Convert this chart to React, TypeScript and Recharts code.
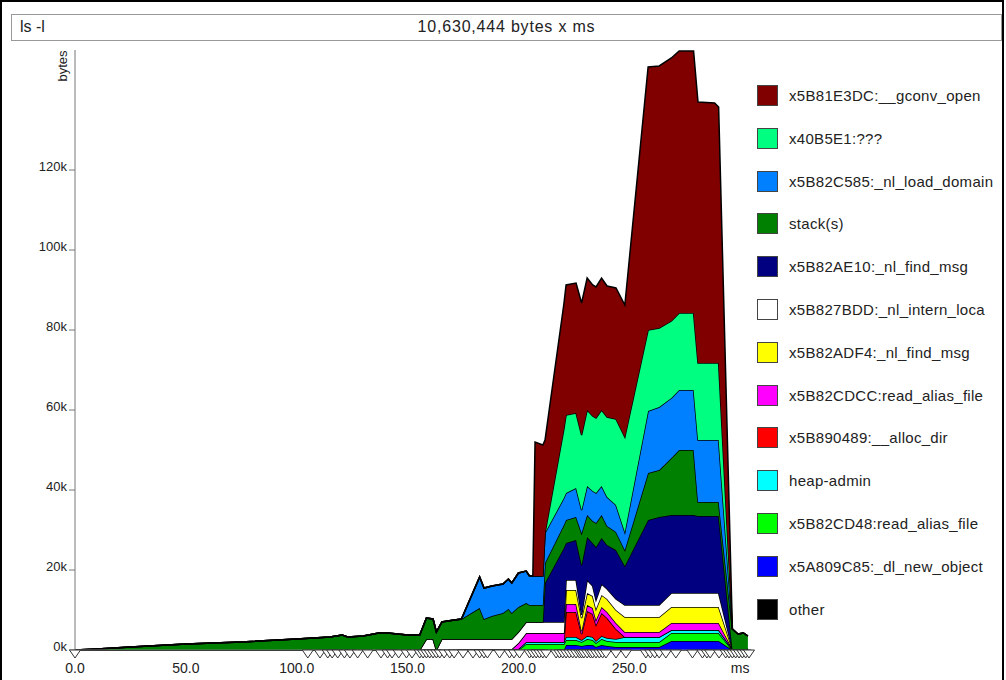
import { Area, ComposedChart, Scatter, XAxis, YAxis } from "recharts"

// snapshot times (ms) used for the stacked areas
const times = [
  0, 10, 25, 50, 75, 100, 115, 120.5, 123, 130, 137, 141, 150, 155.5, 158.5, 161.5, 163, 165.5, 168, 174.3,
  182.5, 184.5, 188, 193, 195.5, 197, 200, 203.5, 205, 206.5, 207.5, 211, 212, 220.5, 221.5, 226, 228.5, 231,
  233.5, 235, 237.5, 240, 244, 248, 258.5, 263.5, 269, 272.5, 279, 281, 288.5, 290.3, 296.5, 299, 301.5, 303.5,
]

// bytes per allocation site, bottom of the stack first
const other = [
  0, 0, 0, 0, 0, 0, 0, 0, 0, 0, 0, 0, 0, 0, 0, 0, 0, 0, 0, 0, 0, 0, 0, 0, 0, 0, 0, 0,
  0, 0, 0, 0, 0, 0, 0, 0, 0, 0, 0, 0, 0, 0, 0, 0, 0, 0, 0, 0, 0, 0, 0, 0, 0, 0, 0, 0,
]
const dlNewObject = [
  0, 0, 0, 0, 0, 0, 0, 0, 0, 0, 0, 0, 0, 0, 0, 0, 0, 0, 0, 0, 0, 0, 0, 0, 0, 0, 0, 0, 0, 0, 0, 0, 0, 0,
  1250, 1250, 1000, 1250, 1250, 750, 1250, 1000, 750, 750, 750, 750, 2250, 2250, 2250, 2250, 2250, 2250, 0, 0, 0, 0,
]
const readAliasCD48 = [
  0, 0, 0, 0, 0, 0, 0, 0, 0, 0, 0, 0, 0, 0, 0, 0, 0, 0, 0, 0, 0, 0, 0, 0, 0, 0, 0,
  1500, 1500, 1500, 1500, 1500, 1500, 1500, 1250, 1250, 1000, 1500, 1250, 1000, 1500, 1250, 1250, 1250, 1250, 1250,
  2000, 2000, 2000, 2000, 2000, 2000, 0, 0, 0, 0,
]
const heapAdmin = [
  0, 0, 0, 0, 0, 0, 0, 0, 0, 0, 0, 0, 0, 0, 0, 0, 0, 0, 0,
  250, 250, 250, 250, 250, 250, 250, 250, 500, 500, 500, 500, 500, 500, 500, 750, 750, 500, 750, 750, 500, 750, 750,
  750, 1250, 1250, 1250, 750, 750, 750, 750, 750, 750, 250, 250, 250, 250,
]
const allocDir = [
  0, 0, 0, 0, 0, 0, 0, 0, 0, 0, 0, 0, 0, 0, 0, 0, 0, 0, 0, 0, 0, 0, 0, 0, 0, 0, 0, 0, 0, 0, 0, 0, 0, 0,
  6250, 6250, 1500, 6250, 5750, 4000, 5750, 5000, 2500, 0, 0, 0, 0, 0, 0, 0, 0, 0, 0, 0, 0, 0,
]
const readAliasCDCC = [
  0, 0, 0, 0, 0, 0, 0, 0, 0, 0, 0, 0, 0, 0, 0, 0, 0, 0, 0, 0, 0, 0, 0, 0, 0, 0,
  1500, 2250, 2250, 2250, 2250, 2250, 2250, 2250, 2000, 2000, 750, 1500, 1500, 1250, 1500, 1500, 1500, 1250, 1250,
  1250, 1750, 1750, 1750, 1750, 1750, 1750, 0, 0, 0, 0,
]
const findMsgADF4 = [
  0, 0, 0, 0, 0, 0, 0, 0, 0, 0, 0, 0, 0, 0, 0, 0, 0, 0, 0, 0, 0, 0, 0, 0, 0, 0, 0, 0, 0, 0, 0, 0, 0, 0,
  3500, 3500, 3250, 3000, 3000, 2750, 3000, 3250, 3250, 3750, 3750, 3750, 4000, 4000, 4000, 4000, 4000, 4000, 0, 0, 0, 0,
]
const internLoca = [
  0, 0, 0, 0, 0, 0, 0, 0, 0, 0, 0, 0, 0, 0,
  2750, 2750, 0, 2750, 2750, 2500, 2500, 2500, 2500, 2500, 2500, 2500, 2750, 2750, 2750, 2750, 2750, 2750, 2750, 2750,
  2500, 2500, 750, 3250, 2500, 2250, 2750, 2500, 2750, 3000, 3000, 3000, 3500, 3500, 3500, 3500, 3500, 3500, 0, 0, 0, 0,
]
const findMsgAE10 = [
  0, 0, 0, 0, 0, 0, 0, 0, 0, 0, 0, 0, 0, 0, 0, 0, 0, 0, 0, 0, 0, 0, 0, 0, 0, 0, 0, 0, 0, 0, 0, 0,
  9750, 18500, 9250, 10000, 12500, 10750, 10750, 13250, 11500, 11000, 12250, 9750, 21250, 22000, 19500, 19500, 19500,
  19250, 19250, 19250, 0, 0, 0, 0,
]
const stacks = [
  0, 250, 750, 1500, 2000, 2750, 3250, 3750, 3250, 3500, 4250, 4250, 3750, 3750, 5250, 5000, 4500, 4250, 4500, 5000,
  7750, 5000, 5750, 6500, 7500, 6500, 6250, 4750, 4250, 4250, 4250, 4250, 5000, 5750, 5750, 5750, 8000, 5500, 5500,
  6000, 5750, 4750, 4500, 4000, 11750, 11750, 14250, 16250, 16250, 3500, 3500, 3500, 5000, 3750, 4000, 3250,
]
const loadDomain = [
  0, 0, 0, 0, 0, 0, 0, 0, 0, 0, 0, 0, 0, 0, 0, 0, 0, 0, 0, 0,
  7750, 7750, 7500, 7250, 7500, 7500, 8500, 8000, 7250, 7250, 7250, 7250, 7500, 6750, 6750, 7250, 5750, 7250, 7500,
  7500, 7250, 7250, 6750, 4500, 15500, 15750, 15000, 15000, 15000, 15500, 15500, 15500, 0, 0, 0, 0,
]
const unknown40B5E1 = [
  0, 0, 0, 0, 0, 0, 0, 0, 0, 0, 0, 0, 0, 0, 0, 0, 0, 0, 0, 0, 0, 0, 0, 0, 0, 0, 0, 0, 0, 0, 0, 0, 0,
  17250, 19500, 18750, 18750, 19000, 18750, 18750, 19000, 20000, 21500, 23750, 20250, 19750, 19250, 19250, 19250,
  19250, 19250, 19250, 0, 0, 0, 0,
]
const gconvOpen = [
  0, 0, 0, 0, 0, 0, 0, 0, 0, 0, 0, 0, 0, 0, 0, 0, 0, 0, 0, 0, 0, 0, 0, 0, 0, 0, 0, 0, 0, 0,
  33500, 32750, 23250, 31250, 32500, 32500, 33000, 33000, 32750, 32750, 33000, 32750, 32750, 33000, 65750, 65500,
  65750, 65500, 65500, 65250, 65000, 64000, 0, 0, 0, 0,
]

// snapshot markers drawn under the time axis
const snapshotTimes = [
  0, 105, 110.5, 114, 116, 118.5, 121.5, 124, 127.5, 132, 138, 141, 143, 146, 149.5, 152, 155.5, 157, 158.5, 160,
  161.5, 163, 164.5, 166.5, 169, 171, 175, 179.5, 182.5, 184.5, 186, 191.5, 196, 198, 200.5, 205, 206.5, 208, 209.5,
  211, 212.5, 217, 218.5, 220, 221.5, 223, 224.5, 226, 227.5, 228.5, 229.5, 231, 232.5, 233.5, 235, 236.5, 238,
  239.5, 244, 248.5, 257.5, 259.5, 261.5, 263.5, 266.5, 271, 278.5, 283, 285, 286.5, 290.5, 293.5, 295, 296.5, 298,
  299.5, 301, 302.5, 304,
]

const yTicks = [0, 20000, 40000, 60000, 80000, 100000, 120000]
const xTicks = [0, 50, 100, 150, 200, 250, 300]

const series = [
  { key: "other", name: "other", color: "#000000", values: other },
  { key: "dl", name: "x5A809C85:_dl_new_object", color: "#0000ff", values: dlNewObject },
  { key: "cd48", name: "x5B82CD48:read_alias_file", color: "#00ff00", values: readAliasCD48 },
  { key: "heap", name: "heap-admin", color: "#00ffff", values: heapAdmin },
  { key: "alloc", name: "x5B890489:__alloc_dir", color: "#ff0000", values: allocDir },
  { key: "cdcc", name: "x5B82CDCC:read_alias_file", color: "#ff00ff", values: readAliasCDCC },
  { key: "adf4", name: "x5B82ADF4:_nl_find_msg", color: "#ffff00", values: findMsgADF4 },
  { key: "intern", name: "x5B827BDD:_nl_intern_loca", color: "#ffffff", values: internLoca },
  { key: "ae10", name: "x5B82AE10:_nl_find_msg", color: "#000080", values: findMsgAE10 },
  { key: "stack", name: "stack(s)", color: "#008000", values: stacks },
  { key: "domain", name: "x5B82C585:_nl_load_domain", color: "#0080ff", values: loadDomain },
  { key: "b5e1", name: "x40B5E1:???", color: "#00ff80", values: unknown40B5E1 },
  { key: "gconv", name: "x5B81E3DC:__gconv_open", color: "#800000", values: gconvOpen },
]

const rows = times.map((t, i) => {
  const row: Record<string, number> = { t }
  series.forEach((s) => {
    row[s.key] = s.values[i]
  })
  return row
})
const markers = snapshotTimes.map((t) => ({ t, v: 0 }))

const font = "'Liberation Sans', Arial, sans-serif"

function SnapMark(props: any) {
  const { cx, cy } = props
  return <path d={`M${cx - 5.5},${cy} L${cx + 5.5},${cy} L${cx},${cy + 8} Z`} fill="#fff" stroke="#333" strokeWidth={1} />
}

function YTick({ x, y, payload }: any) {
  return (
    <text x={x} y={y + 1} textAnchor="end" fontSize={13} fill="#222" fontFamily={font}>
      {payload.value / 1000}k
    </text>
  )
}

function XTick({ x, y, payload }: any) {
  return (
    <text x={x} y={y + 15} textAnchor="middle" fontSize={14} fill="#222" fontFamily={font}>
      {payload.value === 300 ? "ms" : payload.value.toFixed(1)}
    </text>
  )
}

export default function App() {
  const legend = [...series].reverse()
  return (
    <div style={{ position: "fixed", left: 0, top: 0, width: 1006, height: 680, background: "#fff", fontFamily: font }}>
      <ComposedChart width={1006} height={680} data={rows} margin={{ top: 50, right: 257, bottom: 0, left: 0 }}>
        <XAxis
          type="number"
          dataKey="t"
          domain={[0, 304]}
          ticks={xTicks}
          tick={<XTick />}
          tickLine={false}
          axisLine={{ stroke: "#777" }}
          height={30}
        />
        <YAxis
          type="number"
          domain={[0, 150000]}
          ticks={yTicks}
          tick={<YTick />}
          tickSize={6}
          tickLine={{ stroke: "#777" }}
          axisLine={{ stroke: "#777" }}
          width={75}
        />
        {series.map((s) => (
          <Area
            key={s.key}
            type="linear"
            dataKey={s.key}
            name={s.name}
            stackId="heap"
            stroke="#000"
            strokeWidth={1.5}
            fill={s.color}
            fillOpacity={1}
            dot={false}
            activeDot={false}
            isAnimationActive={false}
          />
        ))}
        <Scatter data={markers} dataKey="v" shape={<SnapMark />} legendType="none" isAnimationActive={false} />
      </ComposedChart>

      <div style={{ position: "absolute", left: 0, top: 0, width: 1004, height: 680, borderLeft: "2px solid #000", borderTop: "2px solid #000", borderRight: "2px solid #000", boxSizing: "border-box", pointerEvents: "none" }} />

      <div style={{ position: "absolute", left: 11, top: 14, width: 991, height: 27, border: "1px solid #999", boxSizing: "border-box", background: "#fff" }}>
        <span style={{ position: "absolute", left: 8, top: 3, fontSize: 16, color: "#222" }}>ls -l</span>
        <span style={{ position: "absolute", left: 0, right: 0, top: 3, textAlign: "center", fontSize: 16, letterSpacing: 0.8, color: "#222" }}>
          10,630,444 bytes x ms
        </span>
      </div>

      <div style={{ position: "absolute", left: 62, top: 66, transform: "translate(-50%, -50%) rotate(-90deg)", fontSize: 13, color: "#222" }}>
        bytes
      </div>

      <div style={{ position: "absolute", left: 757, top: 85 }}>
        {legend.map((s, i) => (
          <div key={s.key} style={{ position: "absolute", left: 0, top: i * 42.8, display: "flex", alignItems: "center", height: 21, whiteSpace: "nowrap" }}>
            <div style={{ width: 21, height: 21, background: s.color, border: "1px solid #444", boxSizing: "border-box" }} />
            <span style={{ marginLeft: 11, fontSize: 15, letterSpacing: 0.3, color: "#222" }}>{s.name}</span>
          </div>
        ))}
      </div>
    </div>
  )
}
